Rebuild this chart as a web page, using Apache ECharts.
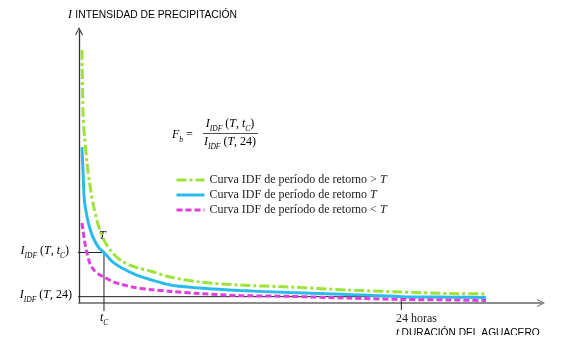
<!DOCTYPE html>
<html><head><meta charset="utf-8">
<script src="https://cdn.jsdelivr.net/npm/echarts@6/dist/echarts.min.js"></script>
<style>html,body{margin:0;padding:0;background:#fff}#c{width:572px;height:358px}</style>
</head><body><div id="c"></div>
<script>
// duration (hours)
const hours = [0.22, 0.3, 0.4, 0.6, 0.8, 1.1, 1.5, 1.86, 2.5, 3.2, 4.2, 5.3, 6.8, 9, 12, 15.7, 20, 24, 27.7, 30.3];
// intensity (arbitrary units)
const idfHigher = [91.7, 69.2, 60.9, 50.7, 43.1, 34.8, 27.2, 22.8, 18.1, 15.2, 13.0, 11.6, 9.4, 7.6, 6.5, 5.8, 4.7, 4.0, 3.4, 3.3];
const idfT      = [56.5, 47.5, 37.3, 31.2, 27.2, 23.2, 19.9, 18.3, 14.9, 12.7, 10.3, 8.5, 6.5, 5.4, 4.5, 3.8, 3.1, 2.3, 2.1, 2.0];
const idfLower  = [29.0, 26.4, 22.8, 18.1, 14.5, 12.0, 10.3, 9.4, 7.8, 6.7, 5.6, 4.9, 4.2, 3.4, 2.7, 2.4, 1.8, 1.3, 1.1, 0.9];
const seriesNames = ['Curva IDF de período de retorno > T', 'Curva IDF de período de retorno T', 'Curva IDF de período de retorno < T'];
const tC = 1.86, idfTtC = 18.3, idf24 = 2.3, h24 = 24;
const tickOutX = -0.45, tickDownY = -2.9, tick24DownY = -2.5;

const SERIF = 'Liberation Serif', SANS = 'Liberation Sans';
const zip = (xs, ys) => xs.map((x, i) => [x, ys[i]]);
const richMath = {
  n: {fontFamily: SERIF, fontSize: 12, lineHeight: 14, verticalAlign: 'top', color: '#222'},
  i: {fontFamily: SERIF, fontSize: 12, fontStyle: 'italic', lineHeight: 14, verticalAlign: 'top', color: '#222'},
  s: {fontFamily: SERIF, fontSize: 7.5, fontStyle: 'italic', lineHeight: 15, verticalAlign: 'bottom', color: '#222'}
};
const idfLabel = (arg) => '{i|I}{s|IDF}{n| (}{i|T}{n|, }' + arg + '{n|)}';

const chart = echarts.init(document.getElementById('c'), null, {renderer: 'canvas'});
const chevron = 'path://M0,10 L5,0 L10,10 L8.6,10 L5,2.8 L1.4,10 Z';
chart.setOption({
  animation: false,
  grid: {left: 79, right: 31, top: 31, bottom: 55},
  xAxis: {type: 'value', min: 0, max: 34.4,
    axisLine: {show: true, symbol: ['none', chevron], symbolSize: [8, 8], lineStyle: {color: '#666', width: 1.5}},
    axisTick: {show: false}, axisLabel: {show: false}, splitLine: {show: false}},
  yAxis: {type: 'value', min: 0, max: 98.6,
    axisLine: {show: true, symbol: ['none', chevron], symbolSize: [8, 8], lineStyle: {color: '#333', width: 1.3}},
    axisTick: {show: false}, axisLabel: {show: false}, splitLine: {show: false}},
  legend: {
    data: seriesNames, orient: 'vertical', left: 175, top: 174, padding: 0,
    itemWidth: 28, itemHeight: 10, itemGap: 3,
    itemStyle: {opacity: 0}, lineStyle: {width: 3},
    formatter: (name) => '{n|' + name.replace(/T$/, '') + '}{i|T}',
    textStyle: {rich: {
      n: {fontFamily: SERIF, fontSize: 12, lineHeight: 14, color: '#222'},
      i: {fontFamily: SERIF, fontSize: 12, lineHeight: 14, fontStyle: 'italic', color: '#222'}}}
  },
  series: [
    {type: 'line', silent: true, clip: false, showSymbol: false, symbol: 'none', z: 1,
      data: [[tickOutX, idfTtC], [tC, idfTtC], [tC, tickDownY]], lineStyle: {color: '#222', width: 1}},
    {type: 'line', silent: true, clip: false, showSymbol: false, symbol: 'none', z: 1,
      data: [[tickOutX, idf24], [h24, idf24], [h24, tick24DownY]], lineStyle: {color: '#222', width: 1}},
    {name: seriesNames[0], type: 'line', smooth: 0.3, symbol: 'none', data: zip(hours, idfHigher), z: 3,
      itemStyle: {color: '#9de33a'}, lineStyle: {color: '#9de33a', width: 3, type: [10, 3, 3, 3]}},
    {name: seriesNames[1], type: 'line', smooth: 0.3, symbol: 'none', data: zip(hours, idfT), z: 3,
      itemStyle: {color: '#2bbbea'}, lineStyle: {color: '#2bbbea', width: 3}},
    {name: seriesNames[2], type: 'line', smooth: 0.3, symbol: 'none', data: zip(hours, idfLower), z: 3,
      itemStyle: {color: '#e03fe0'}, lineStyle: {color: '#e03fe0', width: 3, type: [6, 3]}}
  ],
  graphic: [
    {type: 'text', x: 68, y: 15, style: {text: '{i|I}{g| }{s|INTENSIDAD DE PRECIPITACIÓN}', verticalAlign: 'middle',
      rich: {i: {fontFamily: SERIF, fontSize: 12, fontStyle: 'italic', color: '#222'}, g: {fontSize: 12},
             s: {fontFamily: SANS, fontSize: 10.3, color: '#222'}}}},
    {type: 'text', x: 396, y: 333, style: {text: '{i|t}{g| }{s|DURACIÓN DEL AGUACERO}', verticalAlign: 'middle',
      rich: {i: {fontFamily: SERIF, fontSize: 12, fontStyle: 'italic', color: '#222'}, g: {fontSize: 8},
             s: {fontFamily: SANS, fontSize: 10.2, color: '#222'}}}},
    {type: 'rect', z: 100, shape: {x: 380, y: 335, width: 192, height: 23}, style: {fill: '#fff'}},
    {type: 'text', x: 396, y: 319, style: {text: '24 horas', verticalAlign: 'middle', fontFamily: SERIF, fontSize: 12, fill: '#222'}},
    {type: 'text', x: 69, y: 245, style: {text: idfLabel('{i|t}{s|C}'), align: 'right', verticalAlign: 'top', rich: richMath}},
    {type: 'text', x: 72, y: 289, style: {text: idfLabel('{n|24}'), align: 'right', verticalAlign: 'top', rich: richMath}},
    {type: 'text', x: 100, y: 312, style: {text: '{i|t}{s|C}', verticalAlign: 'top', rich: richMath}},
    {type: 'text', x: 99, y: 230, style: {text: '{i|T}', verticalAlign: 'top', rich: richMath}},
    {type: 'text', x: 172, y: 129, style: {text: '{i|F}{s|b}{n| =}', verticalAlign: 'top', rich: richMath}},
    {type: 'text', x: 230, y: 118, style: {text: idfLabel('{i|t}{s|C}'), align: 'center', verticalAlign: 'top', rich: richMath}},
    {type: 'line', shape: {x1: 203, y1: 133.5, x2: 258, y2: 133.5}, style: {stroke: '#222', lineWidth: 0.8}},
    {type: 'text', x: 230, y: 136, style: {text: idfLabel('{n|24}'), align: 'center', verticalAlign: 'top', rich: richMath}}
  ]
});
</script></body></html>
